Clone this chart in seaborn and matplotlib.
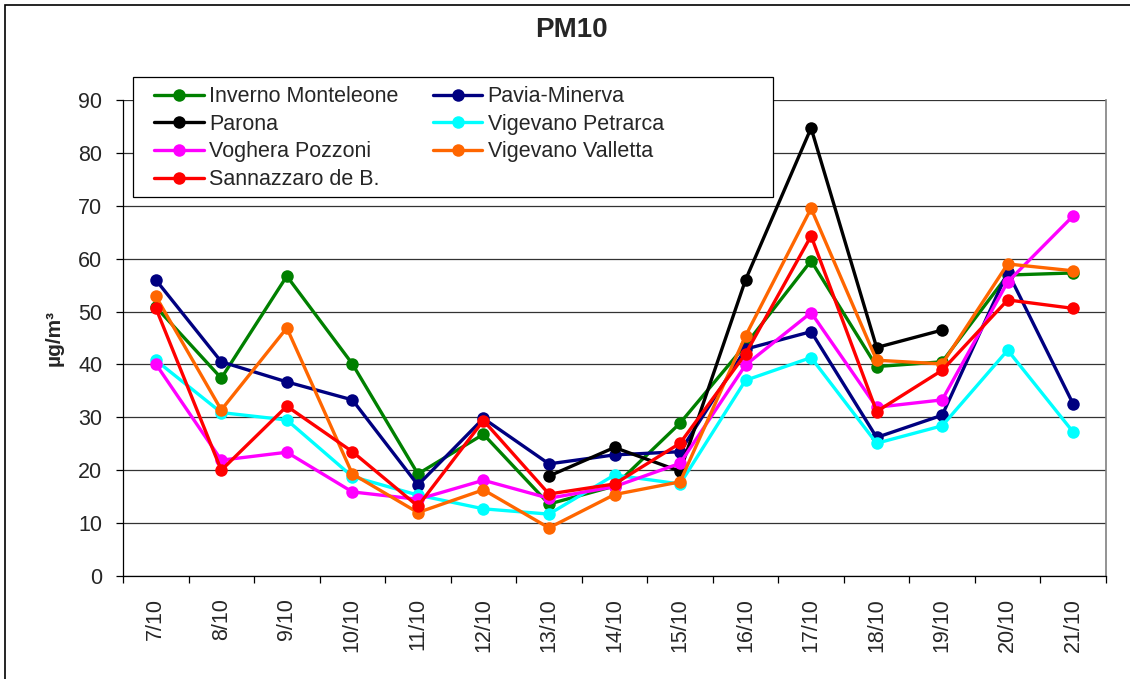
import matplotlib
matplotlib.use("Agg")
import matplotlib.pyplot as plt
import seaborn as sns
import numpy as np
import pandas as pd
from matplotlib.patches import Rectangle

# ---- data ----
dates = ["7/10", "8/10", "9/10", "10/10", "11/10", "12/10", "13/10", "14/10",
         "15/10", "16/10", "17/10", "18/10", "19/10", "20/10", "21/10"]
nan = np.nan
inverno_monteleone = [50.9, 37.4, 56.7, 40.1, 19.3, 26.8, 13.6, 17.0, 28.9, 43.7, 59.6, 39.6, 40.5, 56.9, 57.3]
pavia_minerva = [56.0, 40.5, 36.7, 33.3, 17.2, 29.8, 21.2, 22.9, 23.5, 42.9, 46.2, 26.2, 30.4, 57.5, 32.5]
parona = [nan, nan, nan, nan, nan, nan, 18.9, 24.3, 19.8, 56.0, 84.7, 43.2, 46.5, nan, nan]
vigevano_petrarca = [40.8, 30.9, 29.5, 18.8, 15.3, 12.7, 11.7, 19.1, 17.4, 37.0, 41.3, 25.1, 28.4, 42.7, 27.2]
voghera_pozzoni = [40.1, 21.9, 23.4, 15.9, 14.5, 18.1, 14.7, 16.9, 21.3, 39.9, 49.8, 31.9, 33.3, 55.6, 68.1]
vigevano_valletta = [52.9, 31.4, 46.9, 19.3, 12.0, 16.3, 9.1, 15.4, 17.8, 45.4, 69.5, 40.8, 40.1, 59.0, 57.7]
sannazzaro = [50.7, 20.0, 32.1, 23.5, 13.2, 29.4, 15.5, 17.4, 25.1, 42.0, 64.3, 31.1, 38.9, 52.2, 50.6]

series_names = ["Inverno Monteleone", "Pavia-Minerva", "Parona", "Vigevano Petrarca",
                "Voghera Pozzoni", "Vigevano Valletta", "Sannazzaro de B."]
series_values = [inverno_monteleone, pavia_minerva, parona, vigevano_petrarca,
                 voghera_pozzoni, vigevano_valletta, sannazzaro]
series_colors = ["#008000", "#000080", "#000000", "#00FFFF", "#FF00FF", "#FF6600", "#FF0000"]

# ---- style ----
sns.set_theme(style="white")
plt.rcParams['font.family'] = ['Liberation Sans', 'DejaVu Sans']

W, H = 1130, 679
fig = plt.figure(figsize=(W / 100, H / 100), dpi=100)
fig.patch.set_facecolor("white")
ax = fig.add_axes([123 / W, 1 - 576 / H, (1106 - 123) / W, (576 - 100) / H])
ax.set_facecolor("white")

positions = np.arange(len(dates))
for name, vals, col in zip(series_names, series_values, series_colors):
    df = pd.DataFrame({"pos": positions, "value": vals}).dropna()
    sns.lineplot(data=df, x="pos", y="value", color=col, marker="o", markersize=9,
                 markeredgecolor=col, markeredgewidth=0, linewidth=2.4,
                 errorbar=None, label=name, ax=ax, sort=False)

# axes limits / ticks
ax.set_xlim(-0.5, len(dates) - 0.5)
ax.set_ylim(0, 90)
ax.set_yticks(np.arange(0, 91, 10))
ax.set_xticks(np.arange(-0.5, len(dates), 1))
ax.set_xticklabels([])
ax.set_xticks(positions, minor=True)
ax.set_xticklabels(dates, minor=True, rotation=90, fontsize=15.5)
ax.tick_params(axis="x", which="major", direction="out", length=5, width=0.9,
               color="black", bottom=True)
ax.tick_params(axis="x", which="minor", length=0, pad=16)
ax.tick_params(axis="y", which="major", direction="out", length=5, width=0.9,
               color="black", left=True, labelsize=15.5, pad=10)
ax.set_xlabel("")
ax.set_ylabel("µg/m³", fontsize=15, fontweight="bold")
ax.yaxis.set_label_coords(-0.06, 0.5)

ax.grid(axis="y", color="#333333", linewidth=0.9)
ax.grid(axis="x", visible=False)
ax.set_axisbelow(True)
for s in ["left", "bottom"]:
    ax.spines[s].set_color("black")
    ax.spines[s].set_linewidth(0.9)
ax.spines["right"].set_color("#808080")
ax.spines["right"].set_linewidth(1.2)
ax.spines["top"].set_visible(False)

# legend (row-major order as in reference)
handles, labels = ax.get_legend_handles_labels()
if ax.get_legend():
    ax.get_legend().remove()
order = [0, 2, 4, 6, 1, 3, 5]
box = Rectangle((133 / W, 1 - 197 / H), (773 - 133) / W, (197 - 77) / H,
                transform=fig.transFigure, facecolor="white", edgecolor="black",
                linewidth=0.9, zorder=1)
fig.add_artist(box)
leg = fig.legend([handles[i] for i in order], [labels[i] for i in order],
                 loc="upper left", bbox_to_anchor=(139 / W, 1 - 71 / H),
                 bbox_transform=fig.transFigure, ncol=2, frameon=False,
                 fontsize=15.5, handlelength=2.3, handletextpad=0.25,
                 columnspacing=1.6, labelspacing=0.31, borderpad=0.2)
leg.set_zorder(2)

# title
fig.text(571 / W, 1 - 30 / H, "PM10", ha="center", va="center",
         fontsize=20, fontweight="bold")

# outer chart frame
frame = Rectangle((5 / W, -0.1), 1.2, 1.1 - 5 / H, transform=fig.transFigure,
                  fill=False, edgecolor="black", linewidth=1.2, zorder=3)
fig.add_artist(frame)

fig.savefig("out.png", dpi=100)
